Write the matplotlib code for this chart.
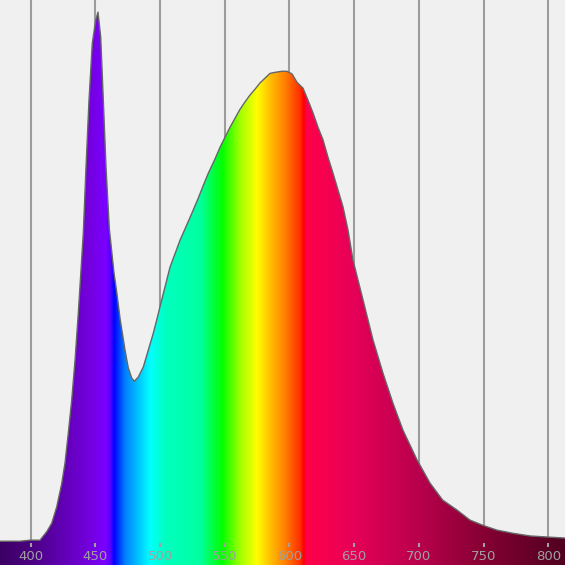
import numpy as np
import matplotlib
matplotlib.use("Agg")
import matplotlib.pyplot as plt
from matplotlib.colors import LinearSegmentedColormap
from matplotlib.patches import Polygon

# spectrum (wavelength nm, relative intensity)
wavelength = [376.30, 391.76, 399.48, 407.21, 412.39, 416.25, 420.12, 423.98, 426.53, 429.08,
              431.71, 434.26, 436.81, 440.67, 442.76, 445.08, 447.63, 450.26, 452.03,
              454.12, 456.13, 458.22, 460.77, 464.40, 466.49, 469.04, 472.90, 475.45, 478.08,
              480.09, 483.18, 487.04, 490.91, 494.77, 497.40, 501.26, 507.68, 515.40, 523.13,
              529.55, 533.41, 537.28, 542.45, 546.32, 550.18, 554.04, 557.91, 561.77, 565.63,
              569.50, 573.36, 577.23, 581.09, 584.96, 588.82, 594.23, 598.10, 601.96, 605.82,
              610.46, 614.32, 618.19, 622.05, 625.92, 629.78, 633.64, 637.51, 641.37, 645.24,
              649.10, 656.83, 664.56, 672.28, 680.01, 687.74, 698.56, 708.61, 718.35, 729.47,
              739.51, 749.56, 760.38, 772.74, 785.88, 799.02, 812.94]
intensity = [-0.002, -0.002, 0.000, 0.000, 0.016, 0.032, 0.063, 0.107, 0.146, 0.203,
             0.265, 0.340, 0.430, 0.581, 0.706, 0.833, 0.941, 0.985, 1.000,
             0.953, 0.833, 0.706, 0.590, 0.506, 0.470, 0.420, 0.360, 0.326, 0.307,
             0.301, 0.309, 0.328, 0.360, 0.392, 0.417, 0.455, 0.517, 0.568, 0.611,
             0.648, 0.672, 0.695, 0.722, 0.744, 0.763, 0.782, 0.799, 0.816, 0.830,
             0.843, 0.854, 0.866, 0.875, 0.884, 0.886, 0.888, 0.888, 0.883, 0.867,
             0.856, 0.833, 0.809, 0.782, 0.758, 0.725, 0.695, 0.663, 0.631, 0.587,
             0.530, 0.455, 0.379, 0.316, 0.259, 0.208, 0.152, 0.108, 0.076, 0.057,
             0.038, 0.028, 0.019, 0.013, 0.008, 0.006, 0.004]
ticks = [400, 450, 500, 550, 600, 650, 700, 750, 800]

# colour stops of the spectrum band
stop_nm = [376.3, 399.5, 422.7, 445.9, 457.4, 461.3, 464.4, 472.9, 492.2, 503.8,
           530.9, 547.9, 561.8, 574.9, 585.0, 596.5, 608.1, 611.2, 612.8, 646.8,
           700.9, 747.2, 812.9]
stop_col = ["#3c0064", "#4a0080", "#5f00b0", "#7400e0", "#7a00ff", "#5a00ff", "#0000ff",
            "#0080ff", "#00ffff", "#00ffc0", "#00ffa0", "#00ff00", "#a0ff00", "#ffff00",
            "#ffc000", "#ff8000", "#ff3000", "#ff0000", "#ff0048", "#e80058",
            "#b8004c", "#880034", "#500020"]

xmin, xmax = 376.3, 812.9
ymin, ymax = -0.047, 1.023

pos = [(n - xmin) / (xmax - xmin) for n in stop_nm]
cmap = LinearSegmentedColormap.from_list("spec", list(zip(pos, stop_col)), N=1024)

fig = plt.figure(figsize=(5.65, 5.65), dpi=100)
ax = fig.add_axes([0, 0, 1, 1])
ax.set_facecolor("#f0f0f0")
ax.set_xlim(xmin, xmax)
ax.set_ylim(ymin, ymax)
ax.axis("off")
fig.patch.set_facecolor("#f0f0f0")

# grid lines behind the spectrum
ax.vlines(ticks, ymin, ymax, color="#9c9c9c", lw=1.5, zorder=1)

# gradient clipped to area under the curve
grad = np.linspace(0, 1, 1024)[None, :]
im = ax.imshow(grad, cmap=cmap, extent=[xmin, xmax, ymin, ymax], aspect="auto",
               interpolation="bilinear", zorder=2)
verts = list(zip(wavelength, intensity)) + [(xmax, ymin), (xmin, ymin)]
poly = Polygon(verts, closed=True, facecolor="none", edgecolor="none")
ax.add_patch(poly)
im.set_clip_path(poly)

ax.plot(wavelength, intensity, color="#666666", lw=1.0, zorder=3)

# tick marks and labels on the band
ax.plot(ticks, [-0.0095] * len(ticks), ls="none", marker="|", ms=3, mew=1.5,
        color="#a0a0a0", zorder=4)
for t in ticks:
    ax.text(t, -0.030, str(t), ha="center", va="center", fontsize=9.5,
            color="#a0a0a0", zorder=4)

fig.savefig("out.png", dpi=100, facecolor=fig.get_facecolor())
